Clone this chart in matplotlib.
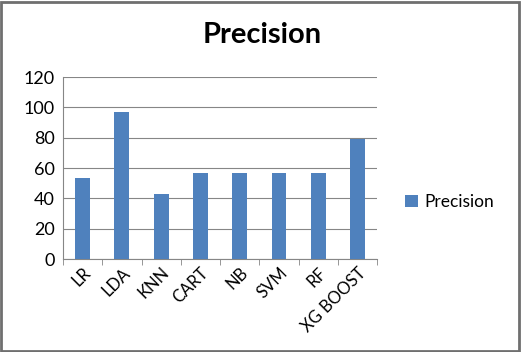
import matplotlib.pyplot as plt
import numpy as np
from matplotlib.patches import Rectangle

models = ['LR', 'LDA', 'KNN', 'CART', 'NB', 'SVM', 'RF', 'XG BOOST']
precision = [53.5, 97, 43, 57, 57, 57, 57, 79]

plt.rcParams['font.family'] = ['Lato', 'DejaVu Sans']

fig = plt.figure(figsize=(5.21, 3.52), dpi=100)
ax = fig.add_axes([0.121, 0.264, 0.603, 0.517])

x = np.arange(len(models))
ax.bar(x, precision, width=0.38, color='#4f81bd', label='Precision', zorder=3)
ax.set_xlim(-0.5, len(models) - 0.5)
ax.set_ylim(0, 120)
ax.set_yticks(range(0, 121, 20))
ax.yaxis.grid(True, color='#868686', linewidth=0.8, zorder=0)
ax.tick_params(axis='y', length=0, labelsize=13, pad=6)

# category labels, tick marks between categories
ax.set_xticks(x)
ax.set_xticklabels(models, rotation=45, ha='right', rotation_mode='anchor', fontsize=12)
ax.tick_params(axis='x', which='major', length=0, pad=4)
ax.set_xticks(np.arange(-0.5, len(models)), minor=True)
ax.tick_params(axis='x', which='minor', length=4, color='#868686')

for side in ['top', 'right']:
    ax.spines[side].set_visible(False)
ax.spines['left'].set_color('#868686')
ax.spines['bottom'].set_color('#868686')

fig.text(0.503, 0.9, 'Precision', ha='center', va='center', fontsize=21, fontweight='bold')
ax.legend(loc='center left', bbox_to_anchor=(1.04, 0.315), frameon=False, fontsize=12.5,
          handlelength=0.7, handleheight=0.7, handletextpad=0.4)

fig.patches.append(Rectangle((0.002, 0.003), 0.994, 0.992, transform=fig.transFigure,
                             fill=False, edgecolor='#6f6f6f', linewidth=2))

plt.savefig('out.png', dpi=100)
